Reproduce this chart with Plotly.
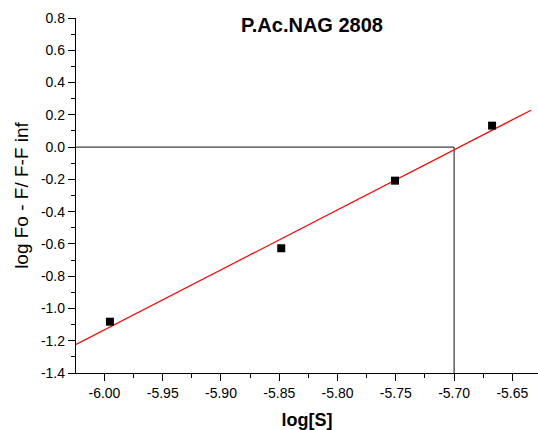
import numpy as np
import plotly.graph_objects as go

# Measured points: log substrate concentration vs log(Fo - F)/(F - Finf)
log_s = [-5.9953, -5.8483, -5.7507, -5.6674]
log_ratio = [-1.082, -0.627, -0.208, 0.133]

# Reading of the x-intercept used for the guide lines
log_s_zero = -5.70

x_tick_vals = [-6.00, -5.95, -5.90, -5.85, -5.80, -5.75, -5.70, -5.65]
x_tick_text = ["-6.00", "-5.95", "-5.90", "-5.85", "-5.80", "-5.75", "-5.70", "-5.65"]
y_tick_vals = [-1.4, -1.2, -1.0, -0.8, -0.6, -0.4, -0.2, 0.0, 0.2, 0.4, 0.6, 0.8]
y_tick_text = ["-1.4", "-1.2", "-1.0", "-0.8", "-0.6", "-0.4", "-0.2", "0.0", "0.2", "0.4", "0.6", "0.8"]

x_range = [-6.0244, -5.628]
y_range = [-1.4, 0.8]
fit_x_end = -5.634

FONT = "Liberation Sans, Arial, sans-serif"

# Linear least-squares fit through the points
slope, intercept = np.polyfit(log_s, log_ratio, 1)
fit_x = np.array([x_range[0], fit_x_end])
fit_y = slope * fit_x + intercept

fig = go.Figure()

# Guide lines to the x-intercept
fig.add_trace(go.Scatter(
    x=[x_range[0], log_s_zero, log_s_zero],
    y=[0.0, 0.0, y_range[0]],
    mode="lines",
    line=dict(color="#111111", width=1),
    hoverinfo="skip",
    showlegend=False,
))

fig.add_trace(go.Scatter(
    x=fit_x, y=fit_y,
    mode="lines",
    line=dict(color="#ff0000", width=1.2),
    showlegend=False,
))

fig.add_trace(go.Scatter(
    x=log_s, y=log_ratio,
    mode="markers",
    marker=dict(symbol="square", size=8, color="black", line=dict(width=0)),
    showlegend=False,
))

axis_common = dict(
    showgrid=False, zeroline=False,
    showline=True, linecolor="black", linewidth=1.3,
    ticks="outside", ticklen=7, tickwidth=1.3, tickcolor="black",
    tickfont=dict(family=FONT, size=14, color="black"),
    tickmode="array",
)

fig.update_xaxes(
    **axis_common,
    range=x_range,
    tickvals=x_tick_vals, ticktext=x_tick_text,
    minor=dict(ticks="outside", ticklen=4, tickwidth=1.3, tickcolor="black",
               tick0=-6.0, dtick=0.025),
    title=dict(text="<b>log[S]</b>", font=dict(family=FONT, size=18, color="black"), standoff=13),
)
fig.update_yaxes(
    **axis_common,
    range=y_range,
    tickvals=y_tick_vals, ticktext=y_tick_text,
    minor=dict(ticks="outside", ticklen=4, tickwidth=1.3, tickcolor="black",
               tick0=-1.4, dtick=0.1),
    title=dict(text="log Fo - F/ F-F inf", font=dict(family=FONT, size=19, color="black"), standoff=7),
)

fig.update_layout(
    width=538, height=430,
    margin=dict(l=76, r=0, t=18, b=57),
    paper_bgcolor="white", plot_bgcolor="white",
    title=dict(text="<b>P.Ac.NAG 2808</b>", font=dict(family=FONT, size=20, color="black"),
               x=312 / 538, xanchor="center", y=1 - 25 / 430, yanchor="middle"),
)

fig.write_html("out.html")
